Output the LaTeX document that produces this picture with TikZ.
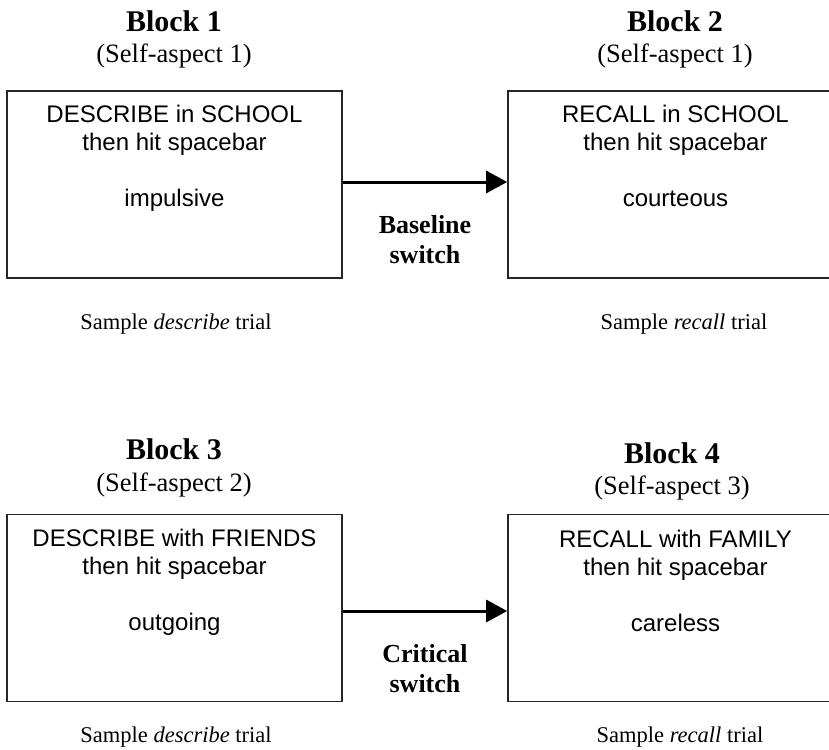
\documentclass[tikz,border=0pt]{standalone}
\usepackage{fontspec}
\setmainfont{Liberation Serif}
\setsansfont{Liberation Sans}
\usetikzlibrary{positioning,arrows.meta}

\tikzset{
  trialbox/.style={draw=black!85, line width=1.6pt, minimum width=335pt, minimum height=187pt, inner sep=0pt},
  cue/.style={font=\sffamily\fontsize{24}{28}\selectfont, align=center, inner sep=0pt, anchor=north},
  blocktitle/.style={font=\bfseries\fontsize{30}{36}\selectfont, inner sep=0pt, anchor=base},
  aspect/.style={font=\fontsize{26.5}{30}\selectfont, inner sep=0pt, anchor=base},
  sample/.style={font=\fontsize{22.5}{26}\selectfont, inner sep=0pt, anchor=base},
  switchlabel/.style={font=\bfseries\fontsize{26}{30}\selectfont, align=center, inner sep=0pt, anchor=north},
  switcharrow/.style={-{Triangle[length=21pt,width=22pt]}, line width=3pt}
}

\begin{document}
\begin{tikzpicture}[x=1pt, y=-1pt]
  \useasboundingbox (0,0) rectangle (829,749);

  % first switch: block 1 -> block 2
  \node[trialbox] (b1) at (174.5,184.5) {};
  \node[trialbox] (b2) at (675.5,184.5) {};
  \node[blocktitle] (t1) at (174,32) {Block 1};
  \node[aspect] (a1) at (174,63) {(Self-aspect 1)};
  \node[blocktitle] (t2) at (675,32) {Block 2};
  \node[aspect] (a2) at (675,63) {(Self-aspect 1)};
  \node[cue, below=15pt of b1.north] (c1) {DESCRIBE in SCHOOL\\then hit spacebar\\[28pt]impulsive};
  \node[cue, below=15pt of b2.north] (c2) {RECALL in SCHOOL\\then hit spacebar\\[28pt]courteous};
  \node[sample] (s1) at (176,329) {Sample \textit{describe} trial};
  \node[sample] (s2) at (684,329) {Sample \textit{recall} trial};
  \draw[switcharrow] ([yshift=2.5pt]b1.east) -- ([yshift=2.5pt]b2.west);
  \node[switchlabel] (l1) at (425,215) {Baseline\\switch};

  % second switch: block 3 -> block 4
  \node[trialbox] (b3) at (174.5,608) {};
  \node[trialbox] (b4) at (675.5,608) {};
  \node[blocktitle] (t3) at (174,459) {Block 3};
  \node[aspect] (a3) at (174,491) {(Self-aspect 2)};
  \node[blocktitle] (t4) at (672,463) {Block 4};
  \node[aspect] (a4) at (672,494) {(Self-aspect 3)};
  \node[cue, below=15pt of b3.north] (c3) {DESCRIBE with FRIENDS\\then hit spacebar\\[28pt]outgoing};
  \node[cue, below=16pt of b4.north] (c4) {RECALL with FAMILY\\then hit spacebar\\[28pt]careless};
  \node[sample] (s3) at (176,742) {Sample \textit{describe} trial};
  \node[sample] (s4) at (680,742) {Sample \textit{recall} trial};
  \draw[switcharrow] ([yshift=-3pt]b3.east) -- ([yshift=-3pt]b4.west);
  \node[switchlabel] (l2) at (425,644) {Critical\\switch};
\end{tikzpicture}
\end{document}
